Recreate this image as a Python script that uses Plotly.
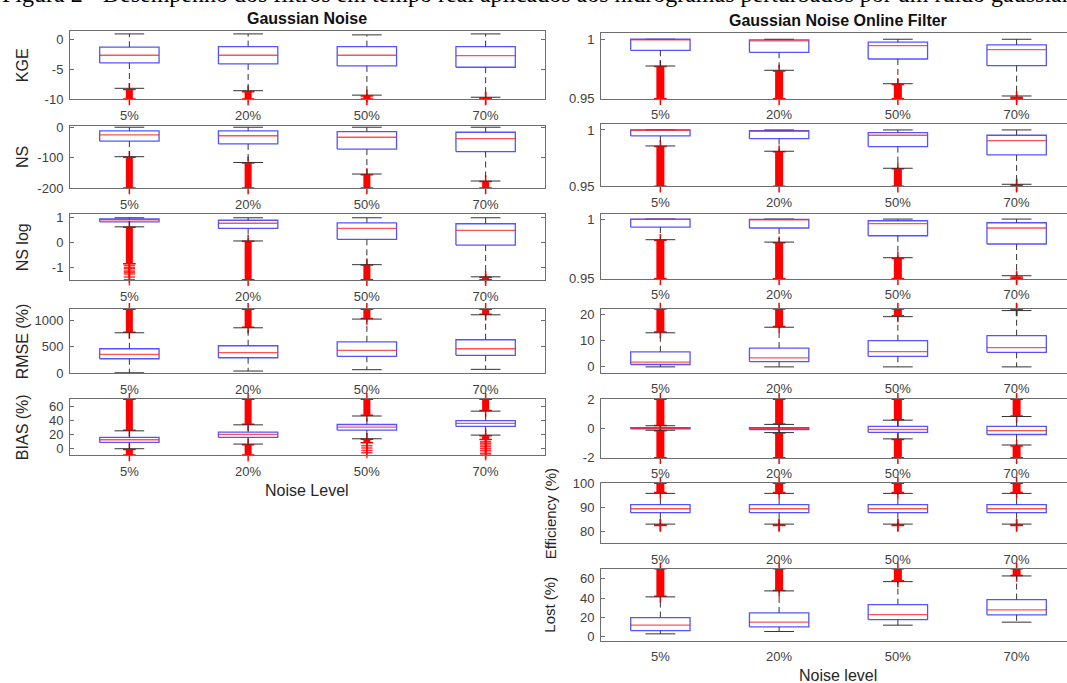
import plotly.graph_objects as go

W, H = 1067, 683

categories = ["5%", "20%", "50%", "70%"]
caption = ("Figura 2 - Desempenho dos filtros em tempo real aplicados aos "
           "hidrogramas perturbados por um ruído gaussiano")

# ---------------- Left panel: Gaussian Noise ----------------
kge_lo = [-8.2, -8.6, -9.35, -9.7]
kge_q1 = [-3.93, -4.1, -4.43, -4.65]
kge_med = [-2.63, -2.63, -2.63, -2.7]
kge_q3 = [-1.28, -1.18, -1.18, -1.18]
kge_hi = [0.96, 0.96, 0.8, 0.96]
kge_out_lo = [(-8.4, -10), (-8.8, -10), (-9.5, -10), (-9.85, -10)]

ns_lo = [-97, -116, -154, -177]
ns_q1 = [-46, -55, -72, -80]
ns_med = [-25, -28, -33, -37.5]
ns_q3 = [-12, -12, -14.5, -16.5]
ns_hi = [0, 0, 0, 0]
ns_out_lo = [(-99, -200), (-118, -200), (-156, -200), (-179, -200)]

nslog_lo = [0.635, 0.065, -0.89, -1.38]
nslog_q1 = [0.836, 0.57, 0.13, -0.1]
nslog_med = [0.92, 0.78, 0.57, 0.49]
nslog_q3 = [0.95, 0.9, 0.795, 0.76]
nslog_hi = [1, 1, 1, 1]
nslog_out_lo = [(0.62, -0.85), (0.05, -1.5), (-0.9, -1.5), (-1.4, -1.5)]
nslog_sparse_5 = [-0.92, -1.0, -1.05, -1.15, -1.2, -1.27, -1.39, -1.5]

rmse_lo = [10, 43, 68, 75]
rmse_q1 = [275, 294, 321, 340]
rmse_med = [358, 389, 434, 464]
rmse_q3 = [464, 521, 596, 634]
rmse_hi = [766, 860, 1025, 1106]
rmse_out_hi = [(775, 1210), (870, 1210), (1035, 1210), (1115, 1210)]

bias_lo = [-1, 5.7, 13.3, 18.6]
bias_q1 = [8.1, 15.2, 25.7, 31]
bias_med = [11.9, 19.5, 30, 35.3]
bias_q3 = [15.2, 22.9, 33.8, 39.5]
bias_hi = [24.7, 33.3, 46, 53]
bias_out_hi = [(25.5, 70), (34, 70), (47, 70), (54, 70)]
bias_out_lo = [(-2, -10), (4.8, -10), (12.5, 7.6), (17.8, 12.4)]
bias_sparse_50 = [3.3, 0, -3.5, -6.7]
bias_sparse_70 = [9, 6.7, 4.3, 1.9, -1, -3.8, -7.6, -10]

# ---------------- Right panel: Gaussian Noise Online Filter ----------------
fkge_lo = [0.9775, 0.9739, 0.9626, 0.9523]
fkge_q1 = [0.9907, 0.989, 0.9834, 0.9778]
fkge_med = [0.9994, 0.9986, 0.9946, 0.9912]
fkge_q3 = [1.0, 0.9994, 0.9975, 0.9952]
fkge_hi = [1.0, 1.0, 1.0, 1.0]
fkge_out_lo = [(0.977, 0.95), (0.9733, 0.95), (0.962, 0.95), (0.9512, 0.95)]

fns_lo = [0.9858, 0.9811, 0.966, 0.9518]
fns_q1 = [0.9947, 0.9923, 0.9852, 0.9778]
fns_med = [0.9997, 0.9988, 0.9953, 0.9905]
fns_q3 = [1.0, 0.9994, 0.9976, 0.9953]
fns_hi = [1.0, 1.0, 1.0, 1.0]
fns_out_lo = [(0.9853, 0.95), (0.9806, 0.95), (0.9655, 0.95), (0.9512, 0.95)]

fnslog_lo = [0.9827, 0.9807, 0.9676, 0.9525]
fnslog_q1 = [0.9933, 0.9925, 0.986, 0.9791]
fnslog_med = [0.9997, 0.9994, 0.9961, 0.9925]
fnslog_q3 = [1.0, 0.9997, 0.9986, 0.9969]
fnslog_hi = [1.0, 1.0, 1.0, 1.0]
fnslog_out_lo = [(0.9822, 0.95), (0.9802, 0.95), (0.967, 0.95), (0.9515, 0.95)]

frmse_lo = [0, 0, 0, 0]
frmse_q1 = [0.9, 2.0, 4.0, 5.5]
frmse_med = [1.8, 3.4, 5.8, 7.3]
frmse_q3 = [5.7, 7.1, 9.9, 11.8]
frmse_hi = [12.9, 15, 19, 21.3]
frmse_out_hi = [(13.2, 21.9), (15.3, 21.9), (19.3, 21.9), (21.5, 21.9)]

fbias_lo = [-0.12, -0.28, -0.71, -1.13]
fbias_q1 = [-0.02, -0.07, -0.26, -0.41]
fbias_med = [0.01, 0.0, -0.07, -0.14]
fbias_q3 = [0.05, 0.05, 0.14, 0.14]
fbias_hi = [0.19, 0.28, 0.57, 0.82]
fbias_out_hi = [(0.2, 2), (0.3, 2), (0.6, 2), (0.85, 2)]
fbias_out_lo = [(-0.15, -2), (-0.3, -2), (-0.75, -2), (-1.2, -2)]

eff_lo = [83.0, 83.0, 83.0, 83.0]
eff_q1 = [87.75, 87.75, 87.75, 87.75]
eff_med = [89.4, 89.4, 89.4, 89.4]
eff_q3 = [91.1, 91.1, 91.1, 91.1]
eff_hi = [95.8, 95.8, 95.8, 95.8]
eff_out_hi = [(96.2, 100), (96.2, 100), (96.2, 100), (96.2, 100)]
eff_out_lo = [(82.6, 82.4), (82.6, 82.4), (82.6, 82.4), (82.6, 82.4)]

lost_lo = [3.1, 5.5, 12.1, 15.2]
lost_q1 = [6.5, 10.3, 17.9, 22.8]
lost_med = [12.1, 15.2, 23.1, 27.9]
lost_q3 = [20.0, 24.8, 33.4, 38.6]
lost_hi = [41.4, 47.6, 57.2, 63.1]
lost_out_hi = [(42, 70.6), (48, 70.6), (58, 70.6), (63.5, 70.6)]

# ---------------- styling / layout ----------------
FONT = "Liberation Sans, Arial, sans-serif"
TICK_COLOR = "#404040"
AX_COLOR = "#6e6e6e"
BOX_COLOR = "rgba(40,40,255,0.8)"
MED_COLOR = "rgba(255,40,40,0.8)"
WHISK_COLOR = "#333333"
OUT_COLOR = "#ff0000"
BOX_HALF = 0.25
CAP_HALF = 0.125

LEFT_X = (70, 545)
RIGHT_X = (601, 1067)
LEFT_XRANGE = [0.5, 4.5]
RIGHT_XRANGE = [0.5, 0.5 + (1067 - 601) / 118.75]

panels = [
    dict(s=(kge_lo, kge_q1, kge_med, kge_q3, kge_hi), olo=kge_out_lo, ohi=None, sp=None,
         xp=LEFT_X, yp=(31.3, 99), yr=[-10, 1.4], yt=[-10, -5, 0], lab="KGE", side="L"),
    dict(s=(ns_lo, ns_q1, ns_med, ns_q3, ns_hi), olo=ns_out_lo, ohi=None, sp=None,
         xp=LEFT_X, yp=(126, 188), yr=[-200, 4], yt=[-200, -100, 0], lab="NS", side="L"),
    dict(s=(nslog_lo, nslog_q1, nslog_med, nslog_q3, nslog_hi), olo=nslog_out_lo, ohi=None,
         sp=[(0, nslog_sparse_5)],
         xp=LEFT_X, yp=(214.3, 280.3), yr=[-1.52, 1.14], yt=[-1, 0, 1], lab="NS log", side="L"),
    dict(s=(rmse_lo, rmse_q1, rmse_med, rmse_q3, rmse_hi), olo=None, ohi=rmse_out_hi, sp=None,
         xp=LEFT_X, yp=(309.3, 373.3), yr=[0, 1210], yt=[0, 500, 1000], lab="RMSE (%)", side="L"),
    dict(s=(bias_lo, bias_q1, bias_med, bias_q3, bias_hi), olo=bias_out_lo, ohi=bias_out_hi,
         sp=[(2, bias_sparse_50), (3, bias_sparse_70)],
         xp=LEFT_X, yp=(399.3, 455), yr=[-10, 70], yt=[0, 20, 40, 60], lab="BIAS (%)", side="L"),
    dict(s=(fkge_lo, fkge_q1, fkge_med, fkge_q3, fkge_hi), olo=fkge_out_lo, ohi=None, sp=None,
         xp=RIGHT_X, yp=(33.3, 98.7), yr=[0.95, 1.005], yt=[0.95, 1], lab=None, side="R"),
    dict(s=(fns_lo, fns_q1, fns_med, fns_q3, fns_hi), olo=fns_out_lo, ohi=None, sp=None,
         xp=RIGHT_X, yp=(124.3, 186.3), yr=[0.95, 1.005], yt=[0.95, 1], lab=None, side="R"),
    dict(s=(fnslog_lo, fnslog_q1, fnslog_med, fnslog_q3, fnslog_hi), olo=fnslog_out_lo, ohi=None,
         sp=None, xp=RIGHT_X, yp=(213.7, 278.7), yr=[0.95, 1.0045], yt=[0.95, 1], lab=None, side="R"),
    dict(s=(frmse_lo, frmse_q1, frmse_med, frmse_q3, frmse_hi), olo=None, ohi=frmse_out_hi, sp=None,
         xp=RIGHT_X, yp=(309, 372.7), yr=[-2.2, 21.9], yt=[0, 10, 20], lab=None, side="R"),
    dict(s=(fbias_lo, fbias_q1, fbias_med, fbias_q3, fbias_hi), olo=fbias_out_lo, ohi=fbias_out_hi,
         sp=None, xp=RIGHT_X, yp=(399.3, 457.7), yr=[-2, 2], yt=[-2, 0, 2], lab=None, side="R"),
    dict(s=(eff_lo, eff_q1, eff_med, eff_q3, eff_hi), olo=eff_out_lo, ohi=eff_out_hi, sp=None,
         xp=RIGHT_X, yp=(483.3, 543.3), yr=[75, 100], yt=[80, 90, 100], lab="Efficiency (%)", side="R"),
    dict(s=(lost_lo, lost_q1, lost_med, lost_q3, lost_hi), olo=None, ohi=lost_out_hi, sp=None,
         xp=RIGHT_X, yp=(568.7, 640.7), yr=[-4, 70.6], yt=[0, 20, 40, 60], lab="Lost (%)", side="R"),
]

fig = go.Figure()
layout = dict(width=W, height=H, autosize=False, margin=dict(l=0, r=0, t=0, b=0),
              paper_bgcolor="white", plot_bgcolor="white", showlegend=False,
              font=dict(family=FONT, color=TICK_COLOR))
annotations = []


def fmt(v):
    return f"{v:g}"


for i, p in enumerate(panels):
    n = i + 1
    xa = "x" if n == 1 else f"x{n}"
    ya = "y" if n == 1 else f"y{n}"
    xkey = "xaxis" if n == 1 else f"xaxis{n}"
    ykey = "yaxis" if n == 1 else f"yaxis{n}"
    pos = list(range(1, len(categories) + 1))
    lo, q1, med, q3, hi = p["s"]
    bar_w = 7 if p["side"] == "L" else 8

    # outliers (dense runs drawn as thick red bars with '+' ends)
    for runs in (p["olo"], p["ohi"]):
        if runs is None:
            continue
        bx, by, mx, my = [], [], [], []
        for c, r in zip(pos, runs):
            if r is None:
                continue
            bx += [c, c, None]
            by += [r[0], r[1], None]
            mx += [c, c]
            my += [r[0], r[1]]
        fig.add_trace(go.Scatter(x=bx, y=by, xaxis=xa, yaxis=ya, mode="lines",
                                 line=dict(color=OUT_COLOR, width=bar_w), hoverinfo="skip"))
        fig.add_trace(go.Scatter(x=mx, y=my, xaxis=xa, yaxis=ya, mode="markers", cliponaxis=False,
                                 marker=dict(symbol="cross-thin-open", size=9, color=OUT_COLOR,
                                             line=dict(color=OUT_COLOR, width=1.5)),
                                 hoverinfo="skip"))
    if p["sp"]:
        sx, sy = [], []
        for k, vals in p["sp"]:
            sx += [pos[k]] * len(vals)
            sy += vals
        fig.add_trace(go.Scatter(x=sx, y=sy, xaxis=xa, yaxis=ya, mode="markers", cliponaxis=False,
                                 marker=dict(symbol="cross-thin-open", size=8,
                                             color="rgba(255,0,0,0.8)",
                                             line=dict(color="rgba(255,0,0,0.8)", width=1.5)),
                                 hoverinfo="skip"))

    # whiskers (dashed)
    wx, wy = [], []
    for c, a, b, d, e in zip(pos, lo, q1, q3, hi):
        wx += [c, c, None, c, c, None]
        wy += [d, e, None, b, a, None]
    fig.add_trace(go.Scatter(x=wx, y=wy, xaxis=xa, yaxis=ya, mode="lines",
                             line=dict(color=WHISK_COLOR, width=1, dash="6px,4px"), hoverinfo="skip"))
    # caps
    cx, cy = [], []
    for c, a, e in zip(pos, lo, hi):
        cx += [c - CAP_HALF, c + CAP_HALF, None, c - CAP_HALF, c + CAP_HALF, None]
        cy += [e, e, None, a, a, None]
    fig.add_trace(go.Scatter(x=cx, y=cy, xaxis=xa, yaxis=ya, mode="lines",
                             line=dict(color=WHISK_COLOR, width=1), hoverinfo="skip"))
    # boxes
    rx, ry = [], []
    for c, b, d in zip(pos, q1, q3):
        rx += [c - BOX_HALF, c + BOX_HALF, c + BOX_HALF, c - BOX_HALF, c - BOX_HALF, None]
        ry += [b, b, d, d, b, None]
    fig.add_trace(go.Scatter(x=rx, y=ry, xaxis=xa, yaxis=ya, mode="lines",
                             line=dict(color=BOX_COLOR, width=1.3), hoverinfo="skip"))
    # medians
    mdx, mdy = [], []
    for c, m in zip(pos, med):
        mdx += [c - BOX_HALF, c + BOX_HALF, None]
        mdy += [m, m, None]
    fig.add_trace(go.Scatter(x=mdx, y=mdy, xaxis=xa, yaxis=ya, mode="lines",
                             line=dict(color=MED_COLOR, width=1.3), hoverinfo="skip"))

    x0, x1 = p["xp"]
    top, bot = p["yp"]
    layout[xkey] = dict(domain=[x0 / W, x1 / W], anchor=ya,
                        range=LEFT_XRANGE if p["side"] == "L" else RIGHT_XRANGE,
                        tickvals=pos, ticktext=categories, ticks="",
                        showgrid=False, zeroline=False, showline=True, mirror=True,
                        linecolor=AX_COLOR, linewidth=1, ticklabelstandoff=4,
                        tickfont=dict(family=FONT, size=13, color=TICK_COLOR),
                        fixedrange=True, automargin=False)
    layout[ykey] = dict(domain=[1 - bot / H, 1 - top / H], anchor=xa, range=p["yr"],
                        tickvals=p["yt"], ticktext=[fmt(v) for v in p["yt"]],
                        ticks="inside", ticklen=4, tickcolor=AX_COLOR,
                        showgrid=False, zeroline=False, showline=True,
                        mirror="ticks" if p["side"] == "L" else False,
                        linecolor=AX_COLOR, linewidth=1, ticklabelstandoff=3,
                        tickfont=dict(family=FONT, size=13, color=TICK_COLOR),
                        fixedrange=True, automargin=False)
    if p["lab"]:
        lx = 22 if p["side"] == "L" else 550
        fsz = 16 if p["side"] == "L" else 15
        annotations.append(dict(text=p["lab"], textangle=-90, xref="paper", yref="paper",
                                x=lx / W, y=1 - (top + bot) / 2 / H, xanchor="center",
                                yanchor="middle", showarrow=False,
                                font=dict(family=FONT, size=fsz, color="#262626")))

# titles, x labels, caption
annotations += [
    dict(text="<b>Gaussian Noise</b>", xref="paper", yref="paper", x=307 / W, y=1 - 18 / H,
         xanchor="center", yanchor="middle", showarrow=False,
         font=dict(family=FONT, size=16, color="#111111")),
    dict(text="<b>Gaussian Noise Online Filter</b>", xref="paper", yref="paper", x=838 / W,
         y=1 - 20 / H, xanchor="center", yanchor="middle", showarrow=False,
         font=dict(family=FONT, size=16, color="#111111")),
    dict(text="Noise Level", xref="paper", yref="paper", x=307 / W, y=1 - 490 / H,
         xanchor="center", yanchor="middle", showarrow=False,
         font=dict(family=FONT, size=16, color="#262626")),
    dict(text="Noise level", xref="paper", yref="paper", x=838 / W, y=1 - 675 / H,
         xanchor="center", yanchor="middle", showarrow=False,
         font=dict(family=FONT, size=16, color="#262626")),
    dict(text=caption, xref="paper", yref="paper", x=0, y=1, xanchor="left", yanchor="bottom",
         yshift=-9, showarrow=False,
         font=dict(family="Liberation Serif, Times New Roman, serif", size=24, color="#000000")),
]
layout["annotations"] = annotations
fig.update_layout(**layout)
fig.write_html("out.html", config={"displayModeBar": False, "staticPlot": True})

# remove the browser's default page margin so the figure fills the window exactly
with open("out.html", "r", encoding="utf-8") as fh:
    html = fh.read()
html = html.replace("<head>", "<head><style>html,body{margin:0;padding:0;overflow:hidden;}</style>", 1)
with open("out.html", "w", encoding="utf-8") as fh:
    fh.write(html)
